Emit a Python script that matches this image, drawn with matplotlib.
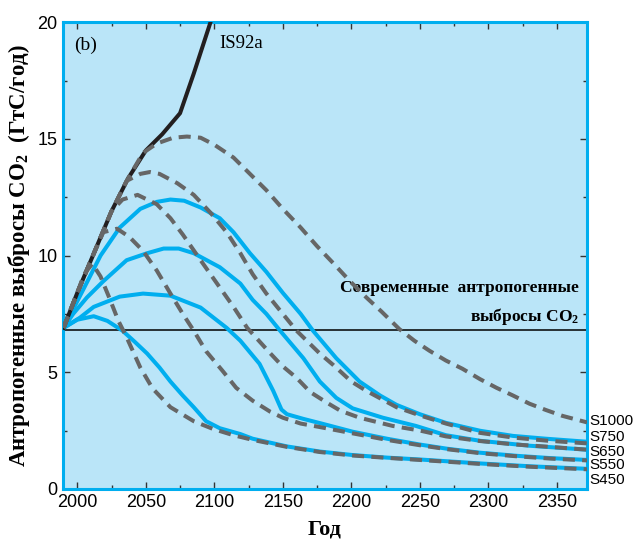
import matplotlib
matplotlib.use('Agg')
import matplotlib.pyplot as plt
from matplotlib.ticker import MultipleLocator
import matplotlib.transforms as mtransforms

plt.rcParams['mathtext.default'] = 'regular'

# --- data (year, GtC/yr) ---
is92a_yr = [1990, 2000, 2010, 2025, 2037, 2050, 2062, 2075, 2085, 2100]
is92a_v = [6.9, 8.4, 9.8, 11.9, 13.3, 14.5, 15.2, 16.1, 17.8, 20.5]

# dashed profiles
s1000_yr = [1990, 2000, 2010, 2025, 2037, 2048, 2058, 2070, 2080, 2090, 2100, 2114, 2126,
            2138, 2150, 2163, 2175, 2187, 2199, 2211, 2222, 2235, 2246, 2257, 2269, 2281,
            2294, 2306, 2318, 2330, 2342, 2354, 2372]
s1000_v = [6.9, 8.4, 9.8, 11.9, 13.3, 14.4, 14.8, 15.05, 15.1, 15.05, 14.75, 14.2, 13.5,
           12.8, 12.0, 11.2, 10.4, 9.66, 8.9, 8.2, 7.6, 6.85, 6.35, 5.92, 5.5, 5.15,
           4.7, 4.33, 4.0, 3.65, 3.38, 3.13, 2.85]

s750d_yr = [1990, 2000, 2010, 2025, 2036, 2046, 2053, 2060, 2073, 2085, 2097, 2109, 2119,
            2128, 2138, 2150, 2160, 2177, 2187, 2200, 2211, 2222, 2233, 2250, 2269, 2294,
            2318, 2342, 2372]
s750d_v = [6.9, 8.4, 9.8, 11.9, 13.2, 13.5, 13.58, 13.5, 13.1, 12.6, 11.85, 11.0, 10.1,
           9.2, 8.37, 7.5, 6.78, 5.8, 5.3, 4.6, 4.2, 3.85, 3.5, 3.15, 2.8, 2.4,
           2.2, 2.07, 1.95]

s650d_yr = [1990, 2000, 2010, 2025, 2033, 2044, 2058, 2068, 2077, 2090, 2102, 2114, 2124,
            2141, 2149, 2160, 2170, 2182, 2192, 2206, 2230, 2250, 2269, 2294, 2320, 2345, 2372]
s650d_v = [6.9, 8.4, 9.8, 11.9, 12.4, 12.6, 12.2, 11.6, 10.9, 9.8, 8.8, 7.8, 6.9,
           5.8, 5.3, 4.76, 4.15, 3.7, 3.35, 3.05, 2.7, 2.5, 2.25, 2.05, 1.9, 1.8, 1.68]

s550d_yr = [1990, 2000, 2010, 2019, 2029, 2038, 2048, 2058, 2068, 2077, 2085, 2094, 2106,
            2116, 2128, 2141, 2150, 2163, 2177, 2201, 2226, 2250, 2270, 2294, 2320, 2345, 2372]
s550d_v = [6.9, 8.4, 9.8, 11.0, 11.15, 10.8, 10.2, 9.36, 8.37, 7.5, 6.78, 5.9, 5.06,
           4.33, 3.78, 3.3, 3.05, 2.8, 2.65, 2.38, 2.1, 1.87, 1.7, 1.53, 1.4, 1.3, 1.22]

s450d_yr = [1990, 2000, 2005, 2011, 2017, 2024, 2030, 2036, 2046, 2055, 2068, 2085, 2099,
            2114, 2128, 2153, 2177, 2201, 2226, 2250, 2294, 2330, 2372]
s450d_v = [6.9, 8.4, 9.2, 9.65, 9.1, 8.1, 7.2, 6.5, 5.2, 4.3, 3.5, 2.9, 2.57,
           2.3, 2.1, 1.8, 1.58, 1.43, 1.33, 1.24, 1.07, 0.95, 0.84]

# solid profiles
s750_yr = [1990, 2004, 2017, 2031, 2046, 2058, 2068, 2078, 2090, 2104, 2114, 2126, 2138,
           2150, 2163, 2172, 2189, 2206, 2221, 2233, 2250, 2269, 2294, 2318, 2342, 2372]
s750_v = [6.9, 8.5, 10.0, 11.2, 12.0, 12.3, 12.4, 12.35, 12.06, 11.6, 11.0, 10.1, 9.3,
          8.4, 7.5, 6.78, 5.6, 4.6, 4.0, 3.6, 3.2, 2.83, 2.49, 2.27, 2.15, 2.02]

s650_yr = [1990, 1997, 2007, 2019, 2036, 2051, 2063, 2074, 2085, 2104, 2119, 2128, 2138,
           2148, 2165, 2177, 2189, 2201, 2223, 2247, 2269, 2294, 2330, 2372]
s650_v = [6.9, 7.5, 8.2, 8.9, 9.8, 10.1, 10.3, 10.3, 10.1, 9.5, 8.8, 8.1, 7.5,
          6.78, 5.6, 4.6, 3.9, 3.45, 3.05, 2.7, 2.3, 2.06, 1.85, 1.68]

s550_yr = [1990, 2002, 2012, 2031, 2048, 2068, 2090, 2109, 2119, 2133, 2143, 2149, 2153,
           2165, 2177, 2201, 2226, 2250, 2270, 2294, 2320, 2345, 2372]
s550_v = [6.9, 7.34, 7.8, 8.24, 8.37, 8.28, 7.77, 6.9, 6.35, 5.36, 4.2, 3.4, 3.2,
          3.0, 2.82, 2.45, 2.15, 1.9, 1.72, 1.55, 1.42, 1.32, 1.24]

s450_yr = [1990, 2000, 2012, 2022, 2033, 2042, 2051, 2060, 2068, 2077, 2085, 2094, 2104,
           2119, 2128, 2153, 2177, 2201, 2226, 2250, 2294, 2330, 2372]
s450_v = [6.9, 7.25, 7.4, 7.2, 6.78, 6.3, 5.8, 5.2, 4.6, 4.0, 3.5, 2.9, 2.6,
          2.35, 2.15, 1.82, 1.6, 1.45, 1.34, 1.26, 1.09, 0.97, 0.86]

current = 6.8
labels = ['S1000', 'S750', 'S650', 'S550', 'S450']
label_y = [2.92, 2.23, 1.59, 1.03, 0.39]

blue = '#00aeef'
gray = '#666666'

fig = plt.figure(figsize=(6.43, 5.42), dpi=100)
ax = fig.add_axes([0.098, 0.098, 0.815, 0.861])
ax.set_facecolor('#bae5f8')

ax.axhline(current, color='black', lw=1.1, zorder=1)

for yr, v in [(s750_yr, s750_v), (s650_yr, s650_v), (s550_yr, s550_v), (s450_yr, s450_v)]:
    ax.plot(yr, v, color=blue, lw=2.9, solid_capstyle='butt', zorder=2)

ax.plot(is92a_yr, is92a_v, color='#231f20', lw=2.9, zorder=3)

for yr, v in [(s1000_yr, s1000_v), (s750d_yr, s750d_v), (s650d_yr, s650d_v),
              (s550d_yr, s550d_v), (s450d_yr, s450d_v)]:
    ax.plot(yr, v, color=gray, lw=2.9, dashes=(3, 1.8), dash_capstyle='butt', zorder=4)

ax.set_xlim(1989.6, 2372)
ax.set_ylim(0, 20)
ax.xaxis.set_minor_locator(MultipleLocator(25))
ax.yaxis.set_major_locator(MultipleLocator(5))
ax.yaxis.set_minor_locator(MultipleLocator(2.5))
ax.set_xticks(range(2000, 2351, 50))
ax.tick_params(which='both', direction='in', top=True, right=True, color='#333333', width=1)
ax.tick_params(which='major', length=5, labelsize=13, pad=4)
ax.tick_params(which='minor', length=3)
for lab in ax.get_xticklabels() + ax.get_yticklabels():
    lab.set_family('Liberation Sans')

for s in ax.spines.values():
    s.set_color(blue)
    s.set_linewidth(2.2)

serif = 'Liberation Serif'
ax.set_ylabel('Антропогенные выбросы CO$_2$  (ГтС/год)', family=serif,
              fontweight='bold', fontsize=16.5, labelpad=4)
ax.set_xlabel('Год', family=serif, fontweight='bold', fontsize=16, labelpad=6)

ax.text(1998, 19.0, '(b)', family=serif, fontsize=14, va='center', ha='left')
ax.text(2104, 19.1, 'IS92a', family=serif, fontsize=13.5, va='center', ha='left')
ax.text(2366, 8.6, 'Современные  антропогенные', family=serif, fontweight='bold',
        fontsize=12.5, ha='right', va='center')
ax.text(2366, 7.4, 'выбросы CO$_2$', family=serif, fontweight='bold',
        fontsize=12.5, ha='right', va='center')

trans = mtransforms.blended_transform_factory(ax.transAxes, ax.transData)
for lab, y in zip(labels, label_y):
    ax.text(1.005, y, lab, transform=trans, family='Liberation Sans', fontsize=11,
            ha='left', va='center', clip_on=False)

fig.savefig('out.png', dpi=100)
